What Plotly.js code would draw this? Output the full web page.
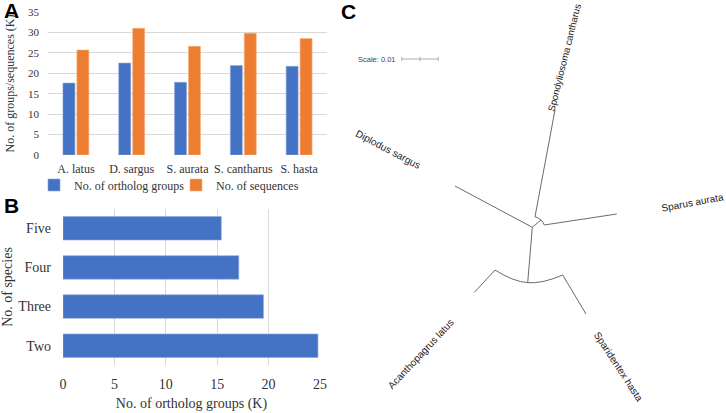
<!DOCTYPE html>
<html>
<head>
<meta charset="utf-8">
<script src="https://cdn.plot.ly/plotly-3.0.1.min.js"></script>
<style>html,body{margin:0;padding:0;background:#fff;}#chart{width:726px;height:413px;}</style>
</head>
<body>
<div id="chart"></div>
<script>
// ---------- Panel A data ----------
const speciesA = ['A. latus', 'D. sargus', 'S. aurata', 'S. cantharus', 'S. hasta'];
const orthologGroupsK = [17.6, 22.5, 17.8, 21.9, 21.7];
const sequencesK = [25.7, 31.0, 26.6, 29.8, 28.5];
const seriesNamesA = ['No. of ortholog groups', 'No. of sequences'];

// ---------- Panel B data ----------
const speciesCount = ['Two', 'Three', 'Four', 'Five'];
const sharedGroupsK = [24.8, 19.5, 17.1, 15.4];

// ---------- Panel C data (unrooted tree, branch-length units) ----------
const nodeId = ['root', 'n1', 'n2', 'dip', 'spo0', 'spo', 'spa0', 'spa', 'aca0', 'aca', 'spd0', 'spd'];
const nodeX = [0, 0.00238, -0.00126, -0.02112, 0.00074, 0.00620, 0.00328, 0.02306, -0.01019, -0.01585, 0.00831, 0.01467];
const nodeY = [0, 0.00199, -0.01514, 0.01128, 0.00290, 0.03205, 0.00063, 0.00363, -0.01167, -0.01781, -0.01303, -0.02369];
const edgeFrom = ['root', 'root', 'root', 'spo0', 'spa0', 'aca0', 'spd0'];
const edgeTo = ['dip', 'n1', 'n2', 'spo', 'spa', 'aca', 'spd'];
const arcStart = ['spo0', 'aca0'];
const arcMid = ['n1', 'n2'];
const arcEnd = ['spa0', 'spd0'];
const leafNames = ['Spondyliosoma cantharus', 'Diplodus sargus', 'Sparus aurata', 'Acanthopagrus latus', 'Sparidentex hasta'];
const labelX = [0.00893, -0.03934, 0.04377, -0.03068, 0.02350];
const labelY = [0.04653, 0.02112, 0.00678, -0.03462, -0.03809];
const labelAngle = [-76, 27.8, -10.7, -47, 57];
const scaleValue = 0.01;
const scaleX0 = -0.03568, scaleY0 = 0.04598;

const BLUE = '#4472C4', ORANGE = '#ED7D31', GRID = '#d9d9d9', TXT = '#333333', TREE = '#6b6b6b';

function pos(id) { const i = nodeId.indexOf(id); return [nodeX[i], nodeY[i]]; }

const traces = [];
traces.push({
  type: 'bar', x: speciesA, y: orthologGroupsK, name: seriesNamesA[0],
  marker: { color: BLUE, line: { color: '#8eaadb', width: 0.6 } }, xaxis: 'x', yaxis: 'y'
});
traces.push({
  type: 'bar', x: speciesA, y: sequencesK, name: seriesNamesA[1],
  marker: { color: ORANGE, line: { color: '#f4b183', width: 0.6 } }, xaxis: 'x', yaxis: 'y'
});
traces.push({
  type: 'bar', orientation: 'h', y: speciesCount, x: sharedGroupsK, width: 0.6,
  marker: { color: BLUE, line: { color: '#8eaadb', width: 0.6 } }, xaxis: 'x2', yaxis: 'y2', showlegend: false
});

// tree edges
const ex = [], ey = [];
for (let k = 0; k < edgeFrom.length; k++) {
  const a = pos(edgeFrom[k]), b = pos(edgeTo[k]);
  ex.push(a[0], b[0], null); ey.push(a[1], b[1], null);
}
traces.push({ type: 'scatter', mode: 'lines', x: ex, y: ey, xaxis: 'x3', yaxis: 'y3',
  line: { color: TREE, width: 1 }, showlegend: false, hoverinfo: 'skip' });
for (let k = 0; k < arcStart.length; k++) {
  const a = pos(arcStart[k]), m = pos(arcMid[k]), b = pos(arcEnd[k]);
  traces.push({ type: 'scatter', mode: 'lines', x: [a[0], m[0], b[0]], y: [a[1], m[1], b[1]],
    xaxis: 'x3', yaxis: 'y3', line: { color: TREE, width: 1, shape: 'spline', smoothing: 1.3 },
    showlegend: false, hoverinfo: 'skip' });
}
// scale bar
traces.push({ type: 'scatter', mode: 'lines+markers', x: [scaleX0, scaleX0 + scaleValue / 2, scaleX0 + scaleValue],
  y: [scaleY0, scaleY0, scaleY0], xaxis: 'x3', yaxis: 'y3',
  line: { color: '#9a9a9a', width: 0.8 }, marker: { symbol: 'line-ns', size: 3, color: '#9a9a9a', line: { color: '#9a9a9a', width: 0.8 } },
  showlegend: false, hoverinfo: 'skip' });

const annotations = [
  { text: '<b>A</b>', xref: 'paper', yref: 'paper', x: 11.5 / 726, y: 1 - 10.5 / 413, showarrow: false,
    font: { family: 'Liberation Sans', size: 21, color: '#000' }, xanchor: 'center', yanchor: 'middle' },
  { text: '<b>B</b>', xref: 'paper', yref: 'paper', x: 11.5 / 726, y: 1 - 205 / 413, showarrow: false,
    font: { family: 'Liberation Sans', size: 21, color: '#000' }, xanchor: 'center', yanchor: 'middle' },
  { text: '<b>C</b>', xref: 'paper', yref: 'paper', x: 348.5 / 726, y: 1 - 11.5 / 413, showarrow: false,
    font: { family: 'Liberation Sans', size: 21, color: '#000' }, xanchor: 'center', yanchor: 'middle' },
  { text: 'Scale: ' + scaleValue, xref: 'x3', yref: 'y3', x: scaleX0, y: scaleY0, xshift: -4, showarrow: false,
    xanchor: 'right', yanchor: 'middle', font: { family: 'Liberation Sans', size: 7.5, color: '#444' } }
];
for (let k = 0; k < leafNames.length; k++) {
  annotations.push({ text: leafNames[k], xref: 'x3', yref: 'y3', x: labelX[k], y: labelY[k], showarrow: false,
    textangle: labelAngle[k], xanchor: 'center', yanchor: 'middle',
    font: { family: 'Liberation Sans', size: k === 0 ? 9.6 : 10, color: '#222' } });
}

const layout = {
  width: 726, height: 413,
  margin: { l: 0, r: 0, t: 0, b: 0 },
  paper_bgcolor: '#fff', plot_bgcolor: 'rgba(0,0,0,0)',
  font: { family: 'Liberation Serif', color: TXT },
  barmode: 'group', bargap: 0.5, bargroupgap: 0.14,
  showlegend: true,
  legend: { orientation: 'h', x: 34 / 726, xanchor: 'left', y: 1 - 185 / 413, yanchor: 'middle',
    entrywidth: 97, entrywidthmode: 'pixels',
    font: { size: 12, color: TXT, family: 'Liberation Serif' }, bgcolor: 'rgba(0,0,0,0)' },
  xaxis: { domain: [48 / 726, 327 / 726], anchor: 'y', type: 'category', showgrid: false, zeroline: false,
    showline: false, ticks: '', tickfont: { size: 12, color: TXT }, ticklabelstandoff: 5, fixedrange: true },
  yaxis: { domain: [1 - 155 / 413, 1 - 12 / 413], anchor: 'x', range: [0, 35], dtick: 5, tick0: 0,
    showgrid: true, gridcolor: GRID, gridwidth: 1, zeroline: false, showline: false, ticks: '',
    tickfont: { size: 11, color: TXT }, ticklabelstandoff: 8,
    title: { text: 'No. of groups/sequences (K)', font: { size: 12, color: TXT }, standoff: 10 } },
  xaxis2: { domain: [63 / 726, 320 / 726], anchor: 'y2', range: [0, 25], dtick: 5, tick0: 0,
    showgrid: true, gridcolor: GRID, zeroline: false, showline: false, ticks: '',
    tickfont: { size: 14, color: TXT }, ticklabelstandoff: 9,
    title: { text: 'No. of ortholog groups (K)', font: { size: 14, color: TXT }, standoff: 6 } },
  yaxis2: { domain: [1 - 365.3 / 413, 1 - 208.7 / 413], anchor: 'x2', type: 'category',
    categoryorder: 'array', categoryarray: speciesCount, showgrid: false, zeroline: false, showline: false,
    ticks: '', tickfont: { size: 14, color: TXT }, ticklabelstandoff: 11,
    title: { text: 'No. of species', font: { size: 14, color: TXT }, standoff: 6 } },
  xaxis3: { domain: [334 / 726, 1], anchor: 'y3', range: [-0.05418, 0.05292], visible: false, fixedrange: true },
  yaxis3: { domain: [0, 1], anchor: 'x3', range: [-0.05074, 0.06210], visible: false, fixedrange: true },
  annotations: annotations
};

Plotly.newPlot('chart', traces, layout, { staticPlot: true, displayModeBar: false });
</script>
</body>
</html>
